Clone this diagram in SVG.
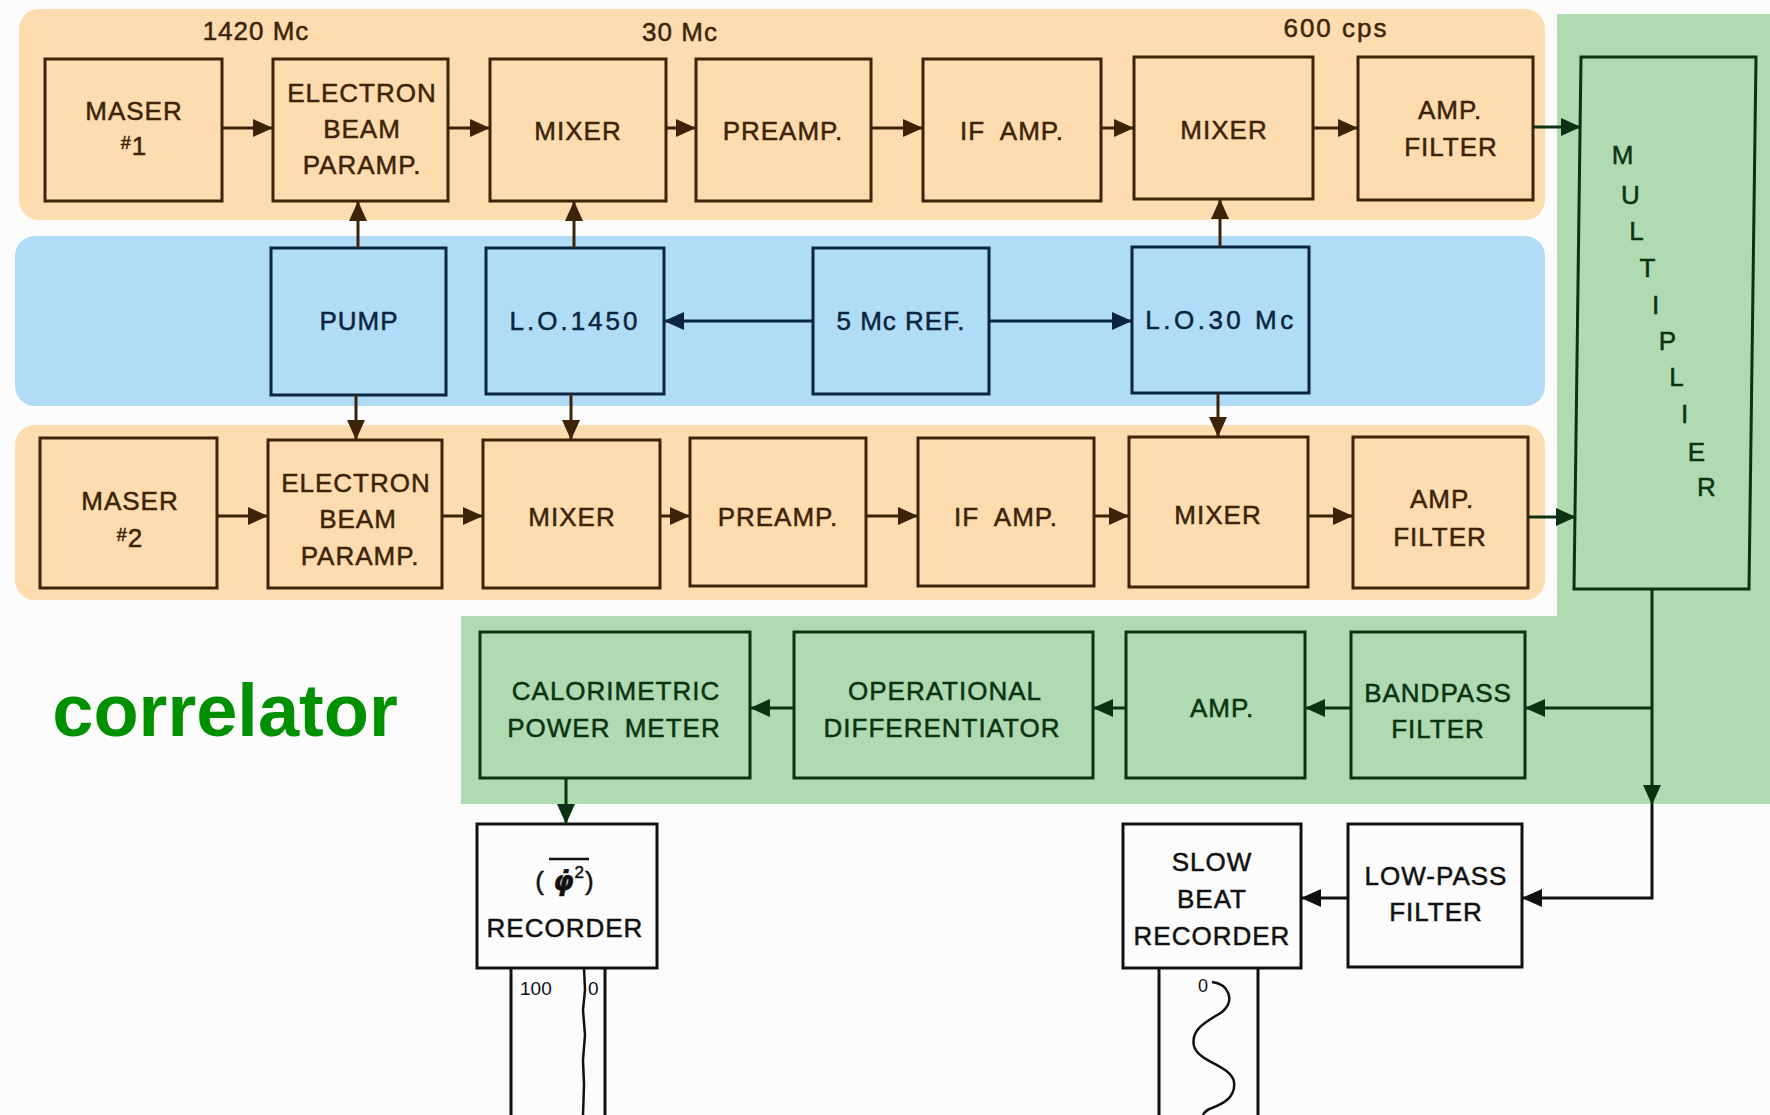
<svg xmlns="http://www.w3.org/2000/svg" width="1770" height="1115" viewBox="0 0 1770 1115">
<style>
.t{font-family:"Liberation Sans",Arial,sans-serif;font-size:26px;letter-spacing:1px;text-anchor:middle;stroke-width:0.5px}
.bo{fill:none;stroke:#3d2408;stroke-width:3}
.bl{fill:none;stroke:#0a2540;stroke-width:3}
.gr{fill:none;stroke:#0b3312;stroke-width:3}
.bk{fill:none;stroke:#111;stroke-width:3}
.tb{fill:#3d2408;stroke:#3d2408}.tn{fill:#0a2540;stroke:#0a2540}.tg{fill:#0b3312;stroke:#0b3312}.tk{fill:#111;stroke:#111}
.cb{stroke:#3d2408;stroke-width:3;fill:none;marker-end:url(#ab)}
.cn{stroke:#0a2540;stroke-width:3;fill:none;marker-end:url(#an)}
.cg{stroke:#0b3312;stroke-width:3;fill:none;marker-end:url(#ag)}
.ck{stroke:#111;stroke-width:3;fill:none;marker-end:url(#ak)}
.s{font-family:"Liberation Sans",Arial,sans-serif;fill:#111}
</style>
<defs>
<marker id="ab" viewBox="0 0 20 18" refX="20" refY="9" markerWidth="20" markerHeight="18" markerUnits="userSpaceOnUse" orient="auto"><path d="M0,0L20,9L0,18Z" fill="#3d2408"/></marker>
<marker id="an" viewBox="0 0 20 18" refX="20" refY="9" markerWidth="20" markerHeight="18" markerUnits="userSpaceOnUse" orient="auto"><path d="M0,0L20,9L0,18Z" fill="#0a2540"/></marker>
<marker id="ag" viewBox="0 0 20 18" refX="20" refY="9" markerWidth="20" markerHeight="18" markerUnits="userSpaceOnUse" orient="auto"><path d="M0,0L20,9L0,18Z" fill="#0b3312"/></marker>
<marker id="ak" viewBox="0 0 20 18" refX="20" refY="9" markerWidth="20" markerHeight="18" markerUnits="userSpaceOnUse" orient="auto"><path d="M0,0L20,9L0,18Z" fill="#111"/></marker>
</defs>
<rect x="0" y="0" width="1770" height="1115" fill="#fcfcfc"/>
<g id="bands">
<rect x="19" y="9" width="1526" height="211" rx="20" fill="#fddcb0"/>
<rect x="15" y="236" width="1530" height="170" rx="20" fill="#b0dcf8"/>
<rect x="15" y="425" width="1530" height="175" rx="20" fill="#fddcb0"/>
<path d="M1557,14H1770V804H461V616H1557Z" fill="#b0dab2"/>
</g>
<g id="freq-labels">
<text class="t tb" x="256" y="40">1420 Mc</text>
<text class="t tb" x="680" y="41">30 Mc</text>
<text class="t tb" x="1336" y="37" style="letter-spacing:2px">600 cps</text>
<text x="225" y="736" style="font-family:'Liberation Sans',Arial,sans-serif;font-weight:bold;font-size:74px;fill:#009000;text-anchor:middle">correlator</text>
</g>
<g id="maser1"><rect class="bo" x="45" y="59" width="177" height="142"/><text class="t tb" x="134" y="120">MASER</text><text class="t tb" x="134" y="155"><tspan font-size="18" dy="-6">#</tspan><tspan dy="6">1</tspan></text></g>
<g id="paramp1"><rect class="bo" x="273" y="59" width="175" height="142"/><text class="t tb" x="362" y="102">ELECTRON</text><text class="t tb" x="362" y="138">BEAM</text><text class="t tb" x="362" y="174">PARAMP.</text></g>
<g id="mixer1a"><rect class="bo" x="490" y="59" width="176" height="142"/><text class="t tb" x="578" y="140">MIXER</text></g>
<g id="preamp1"><rect class="bo" x="696" y="59" width="175" height="142"/><text class="t tb" x="783" y="140">PREAMP.</text></g>
<g id="ifamp1"><rect class="bo" x="923" y="59" width="178" height="142"/><text class="t tb" x="1012" y="140" style="word-spacing:8px">IF AMP.</text></g>
<g id="mixer1b"><rect class="bo" x="1134" y="57" width="179" height="142"/><text class="t tb" x="1224" y="139">MIXER</text></g>
<g id="ampfilter1"><rect class="bo" x="1358" y="57" width="175" height="143"/><text class="t tb" x="1450" y="119">AMP.</text><text class="t tb" x="1451" y="156">FILTER</text></g>
<g id="pump"><rect class="bl" x="271" y="248" width="175" height="147"/><text class="t tn" x="359" y="330">PUMP</text></g>
<g id="lo1450"><rect class="bl" x="486" y="248" width="178" height="146"/><text class="t tn" x="575" y="330" style="letter-spacing:3px">L.O.1450</text></g>
<g id="ref5"><rect class="bl" x="813" y="248" width="176" height="146"/><text class="t tn" x="901" y="330">5 Mc REF.</text></g>
<g id="lo30"><rect class="bl" x="1132" y="247" width="177" height="146"/><text class="t tn" x="1221" y="329" style="letter-spacing:3.5px">L.O.30 Mc</text></g>
<g id="maser2"><rect class="bo" x="40" y="438" width="177" height="150"/><text class="t tb" x="130" y="510">MASER</text><text class="t tb" x="130" y="547"><tspan font-size="18" dy="-6">#</tspan><tspan dy="6">2</tspan></text></g>
<g id="paramp2"><rect class="bo" x="268" y="440" width="174" height="148"/><text class="t tb" x="356" y="492">ELECTRON</text><text class="t tb" x="358" y="528">BEAM</text><text class="t tb" x="360" y="565">PARAMP.</text></g>
<g id="mixer2a"><rect class="bo" x="483" y="440" width="177" height="148"/><text class="t tb" x="572" y="526">MIXER</text></g>
<g id="preamp2"><rect class="bo" x="690" y="438" width="176" height="148"/><text class="t tb" x="778" y="526">PREAMP.</text></g>
<g id="ifamp2"><rect class="bo" x="918" y="438" width="176" height="148"/><text class="t tb" x="1006" y="526" style="word-spacing:8px">IF AMP.</text></g>
<g id="mixer2b"><rect class="bo" x="1129" y="437" width="179" height="150"/><text class="t tb" x="1218" y="524">MIXER</text></g>
<g id="ampfilter2"><rect class="bo" x="1353" y="437" width="175" height="151"/><text class="t tb" x="1442" y="508">AMP.</text><text class="t tb" x="1440" y="546">FILTER</text></g>
<g id="multiplier"><polygon class="gr" points="1581,57 1756,57 1749,589 1574,589"/>
<text class="t tg" x="1623" y="164">M</text><text class="t tg" x="1631" y="204">U</text><text class="t tg" x="1637" y="240">L</text><text class="t tg" x="1648" y="277">T</text><text class="t tg" x="1656" y="314">I</text><text class="t tg" x="1668" y="350">P</text><text class="t tg" x="1677" y="386">L</text><text class="t tg" x="1685" y="423">I</text><text class="t tg" x="1697" y="461">E</text><text class="t tg" x="1707" y="496">R</text></g>
<g id="calorimetric"><rect class="gr" x="480" y="632" width="270" height="146"/><text class="t tg" x="616" y="700">CALORIMETRIC</text><text class="t tg" x="614" y="737" style="word-spacing:6px">POWER METER</text></g>
<g id="differentiator"><rect class="gr" x="794" y="632" width="299" height="146"/><text class="t tg" x="945" y="700">OPERATIONAL</text><text class="t tg" x="942" y="737">DIFFERENTIATOR</text></g>
<g id="amp3"><rect class="gr" x="1126" y="632" width="179" height="146"/><text class="t tg" x="1222" y="717">AMP.</text></g>
<g id="bandpass"><rect class="gr" x="1351" y="632" width="174" height="146"/><text class="t tg" x="1438" y="702">BANDPASS</text><text class="t tg" x="1438" y="738">FILTER</text></g>
<g id="recorder"><rect class="bk" x="477" y="824" width="180" height="144" fill="#fff"/>
<text class="t tk" x="565" y="890">( <tspan font-family="'DejaVu Sans',sans-serif" font-weight="bold" font-style="italic">φ̇</tspan><tspan font-size="17" dy="-12">2</tspan><tspan dy="12">)</tspan></text>
<line x1="549" y1="859" x2="589" y2="859" stroke="#111" stroke-width="2.5"/>
<text class="t tk" x="565" y="937">RECORDER</text>
<path class="bk" d="M511,968V1115M605,968V1115" stroke-width="2.5"/>
<path d="M584,968 L585,990 L583,1010 L585,1035 L583,1060 L584,1085 L583,1115" fill="none" stroke="#111" stroke-width="2.5"/>
<text class="s" x="520" y="995" font-size="19">100</text>
<text class="s" x="588" y="995" font-size="19">0</text>
</g>
<g id="slowbeat"><rect class="bk" x="1123" y="824" width="178" height="144" fill="#fff"/><text class="t tk" x="1212" y="871">SLOW</text><text class="t tk" x="1212" y="908">BEAT</text><text class="t tk" x="1212" y="945">RECORDER</text>
<path class="bk" d="M1159,968V1115M1258,968V1115" stroke-width="2.5"/>
<text class="s" x="1198" y="992" font-size="18">0</text>
<path d="M1212,982 C1228,984 1236,1000 1222,1012 C1210,1020 1190,1028 1194,1046 C1198,1062 1232,1066 1234,1082 C1236,1098 1222,1104 1212,1108 C1206,1110 1204,1113 1203,1115" fill="none" stroke="#111" stroke-width="2.5"/>
</g>
<g id="lowpass"><rect class="bk" x="1348" y="824" width="174" height="143" fill="#fff"/><text class="t tk" x="1436" y="885">LOW-PASS</text><text class="t tk" x="1436" y="921">FILTER</text></g>
<g id="connectors">
<path class="cb" d="M222,128H273"/>
<path class="cb" d="M448,128H490"/>
<path class="cb" d="M666,128H696"/>
<path class="cb" d="M871,128H923"/>
<path class="cb" d="M1101,128H1134"/>
<path class="cb" d="M1313,128H1358"/>
<path class="cg" d="M1533,127H1581"/>
<path class="cb" d="M217,516H268"/>
<path class="cb" d="M442,516H483"/>
<path class="cb" d="M660,516H690"/>
<path class="cb" d="M866,516H918"/>
<path class="cb" d="M1094,516H1129"/>
<path class="cb" d="M1308,516H1353"/>
<path class="cg" d="M1528,517H1576"/>
<path class="cb" d="M358,248V201"/>
<path class="cb" d="M356,395V440"/>
<path class="cb" d="M574,248V201"/>
<path class="cb" d="M571,394V440"/>
<path class="cb" d="M1220,247V199"/>
<path class="cb" d="M1218,393V437"/>
<path class="cn" d="M813,321H664"/>
<path class="cn" d="M989,321H1132"/>
<path class="cg" d="M1652,589V805"/>
<path class="ck" d="M1652,805V898H1522"/>
<path class="cg" d="M1652,708H1525"/>
<path class="cg" d="M1351,708H1305"/>
<path class="cg" d="M1126,708H1093"/>
<path class="cg" d="M794,708H750"/>
<path class="cg" d="M566,778V824"/>
<path class="ck" d="M1348,898H1301"/>
</g>
</svg>
